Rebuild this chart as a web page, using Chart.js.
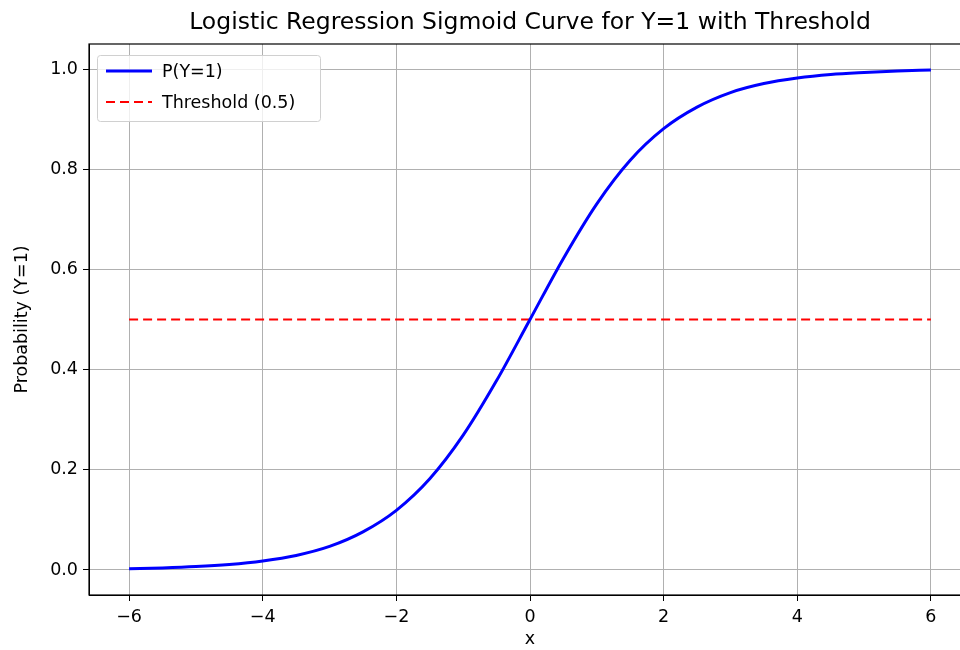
<!DOCTYPE html>
<html>
<head>
<meta charset="utf-8">
<script src="https://cdn.jsdelivr.net/npm/chart.js@4.4.1/dist/chart.umd.min.js"></script>
<style>
  html, body { margin: 0; padding: 0; background: #fff; overflow: hidden; }
  #wrap { width: 1000px; height: 650px; }
</style>
</head>
<body>
<div id="wrap"><canvas id="chart"></canvas></div>
<script>
// values
const xValues = [-6, -5.5, -5, -4.5, -4, -3.5, -3, -2.5, -2, -1.5, -1, -0.5, 0,
                 0.5, 1, 1.5, 2, 2.5, 3, 3.5, 4, 4.5, 5, 5.5, 6];
const probValues = [0.0025, 0.0041, 0.0067, 0.011, 0.018, 0.029, 0.047, 0.076, 0.119, 0.182, 0.269, 0.378, 0.5,
                    0.622, 0.731, 0.818, 0.881, 0.924, 0.953, 0.971, 0.982, 0.989, 0.993, 0.996, 0.998];
const thresholdX = [-6, 6];
const thresholdY = [0.5, 0.5];
const xTicks = [-6, -4, -2, 0, 2, 4, 6];
const yTicks = [0.0, 0.2, 0.4, 0.6, 0.8, 1.0];
const chartTitle = 'Logistic Regression Sigmoid Curve for Y=1 with Threshold';

const FONT = 'DejaVu Sans';

//title centred over the axes (matplotlib style), not over the whole canvas
const axesTitle = {
    id: 'axesTitle',
    afterDraw(chart) {
        const ctx = chart.ctx;
        const a = chart.chartArea;
        ctx.save();
        ctx.font = '23.5px ' + FONT;
        ctx.fillStyle = '#000';
        ctx.textAlign = 'center';
        ctx.textBaseline = 'middle';
        ctx.fillText(chartTitle, (a.left + a.right) / 2, 23);
        ctx.restore();
    }
};

//legend drawn inside the plot, top left, like matplotlib
const innerLegend = {
    id: 'innerLegend',
    afterDraw(chart) {
        const ctx = chart.ctx;
        const area = chart.chartArea;
        const x0 = area.left + 8, y0 = area.top + 11;
        const w = 223, h = 66;
        ctx.save();
        ctx.fillStyle = 'rgba(255,255,255,0.8)';
        ctx.strokeStyle = '#d0d0d0';
        ctx.lineWidth = 1;
        ctx.beginPath();
        ctx.roundRect(x0 + 0.5, y0 + 0.5, w, h, 3);
        ctx.fill();
        ctx.stroke();
        ctx.font = '17.5px ' + FONT;
        ctx.textBaseline = 'middle';
        chart.data.datasets.forEach(function(ds, i){
            const ly = y0 + 16 + i * 31;
            ctx.beginPath();
            ctx.strokeStyle = ds.borderColor;
            ctx.lineWidth = ds.borderWidth;
            ctx.setLineDash(ds.borderDash || []);
            ctx.moveTo(x0 + 9, ly);
            ctx.lineTo(x0 + 55, ly);
            ctx.stroke();
            ctx.setLineDash([]);
            ctx.fillStyle = '#000';
            ctx.fillText(ds.label, x0 + 65, ly + 1);
        });
        ctx.restore();
    }
};

//black frame around the plot area
const frame = {
    id: 'frame',
    afterDatasetsDraw(chart) {
        const a = chart.chartArea;
        const ctx = chart.ctx;
        ctx.save();
        ctx.strokeStyle = '#000';
        ctx.lineWidth = 1.2;
        ctx.strokeRect(a.left, a.top, a.right - a.left, a.bottom - a.top);
        ctx.restore();
    }
};

const ctx = document.getElementById('chart');
const chart = new Chart(ctx, {
    type: 'line',
    data: {
        datasets: [{
            label: 'P(Y=1)',
            data: xValues.map(function(x, i){ return {x: x, y: probValues[i]}; }),
            borderColor: '#0000ff',
            borderWidth: 3,
            pointRadius: 0,
            cubicInterpolationMode: 'monotone',
            fill: false
        }, {
            label: 'Threshold (0.5)',
            data: thresholdX.map(function(x, i){ return {x: x, y: thresholdY[i]}; }),
            borderColor: '#ff0000',
            borderWidth: 2,
            borderDash: [9, 5],
            pointRadius: 0,
            fill: false
        }]
    },
    options: {
        responsive: true,
        maintainAspectRatio: false,
        animation: false,
        layout: { padding: { top: 44, right: 29, bottom: 0, left: 0 } },
        plugins: {
            legend: { display: false },
            tooltip: { enabled: false },
            title: { display: false }
        },
        scales: {
            x: {
                type: 'linear',
                min: -6.6,
                max: 6.6,
                afterBuildTicks: function(axis){ axis.ticks = xTicks.map(function(v){ return {value: v}; }); },
                afterFit: function(axis){ axis.height = 55; },
                ticks: {
                    color: '#000',
                    font: { family: FONT, size: 17.5 },
                    padding: 6,
                    maxRotation: 0,
                    callback: function(v){ return String(v).replace('-', '\u2212'); }
                },
                grid: { color: '#b0b0b0', lineWidth: 1, tickColor: '#000', tickLength: 6 },
                border: { color: '#000', width: 1 },
                title: {
                    display: true,
                    text: 'x',
                    color: '#000',
                    font: { family: FONT, size: 17.5 },
                    padding: { top: 0, bottom: 0 }
                }
            },
            y: {
                type: 'linear',
                min: -0.05,
                max: 1.05,
                afterBuildTicks: function(axis){ axis.ticks = yTicks.map(function(v){ return {value: v}; }); },
                afterFit: function(axis){ axis.width = 89; },
                ticks: {
                    color: '#000',
                    font: { family: FONT, size: 17.5 },
                    padding: 5,
                    callback: function(v){ return v.toFixed(1); }
                },
                grid: { color: '#b0b0b0', lineWidth: 1, tickColor: '#000', tickLength: 6 },
                border: { color: '#000', width: 1 },
                title: {
                    display: true,
                    text: 'Probability (Y=1)',
                    color: '#000',
                    font: { family: FONT, size: 17.5 },
                    padding: { top: 12, bottom: 0 }
                }
            }
        }
    },
    plugins: [frame, innerLegend, axesTitle]
});
</script>
</body>
</html>
